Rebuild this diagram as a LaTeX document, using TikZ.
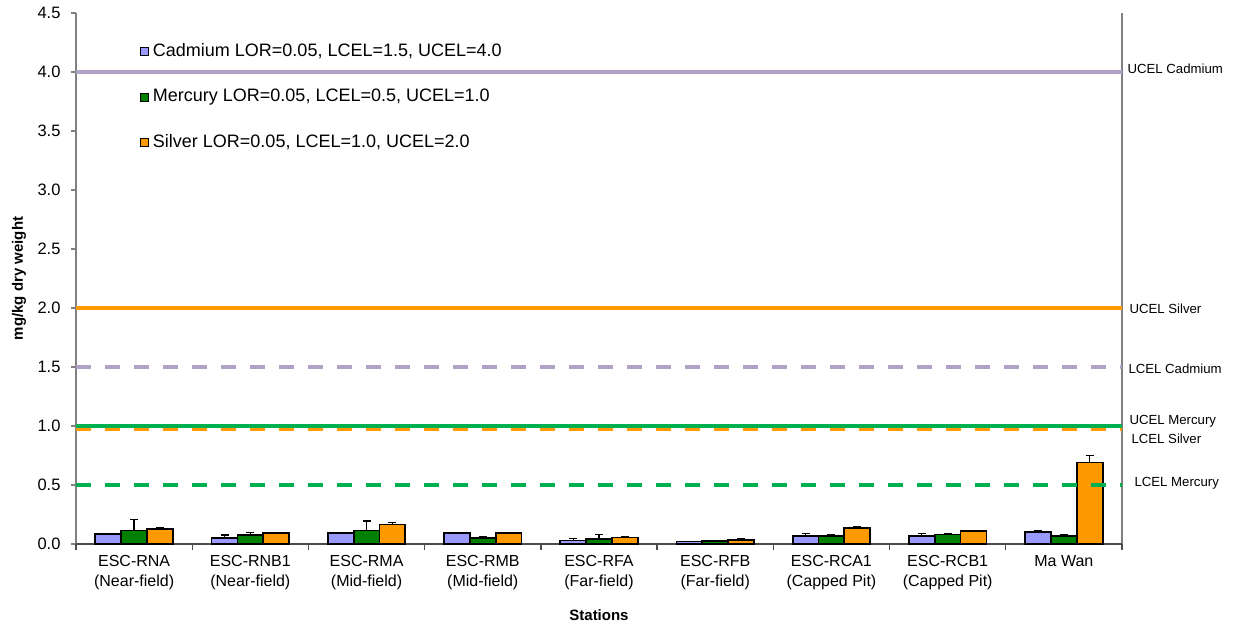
\documentclass[tikz,border=0pt]{standalone}
\usepackage{fontspec}
\setmainfont{Liberation Sans}
\definecolor{cdfill}{RGB}{153,153,255}
\definecolor{hgfill}{RGB}{0,128,0}
\definecolor{agfill}{RGB}{255,153,0}
\definecolor{cdline}{RGB}{178,161,199}
\definecolor{hgline}{RGB}{0,176,80}
\definecolor{agline}{RGB}{255,153,0}
\definecolor{axisgray}{RGB}{128,128,128}

\begin{document}
\begin{tikzpicture}[x=116.22pt, y=118pt]
\tikzset{bar/.style={draw=black, line width=1.8pt},
  errbar/.style={draw=black, line width=1.3pt},
  refline/.style={line width=3.6pt},
  refdash/.style={line width=3.6pt, dash pattern=on 15pt off 14pt},
  ticklab/.style={anchor=east, font=\fontsize{16.5}{18}\selectfont},
  catlab/.style={anchor=north, align=center, font=\fontsize{16}{20}\selectfont},
  reflab/.style={anchor=west, font=\fontsize{13.2}{15}\selectfont},
  leglab/.style={anchor=west, font=\fontsize{18}{20}\selectfont},
  legbox/.style={draw=black, line width=0.9pt, minimum size=8pt, inner sep=0pt},
  axtitle/.style={font=\bfseries\fontsize{15}{17}\selectfont}}
\path[use as bounding box] (-76pt,-84pt) rectangle (1157pt,544pt);
% axes
\draw[axisgray, line width=1.3pt] (0,0) -- (0,4.5);
\draw[axisgray, line width=1.3pt] (9,-6pt) -- (9,4.5);
\draw[black!70, line width=1.3pt] (0,0) -- (9,0);
\foreach \v/\t in {0/0.0,0.5/0.5,1/1.0,1.5/1.5,2/2.0,2.5/2.5,3/3.0,3.5/3.5,4/4.0,4.5/4.5} {
  \draw[axisgray, line width=1.3pt] (-5pt,\v) -- (0,\v);
  \node[ticklab] (tick\v) at ([xshift=-12pt]0,\v) {\t};
}
\foreach \i in {0,...,9}
  \draw[black!70, line width=1.3pt] (\i,0) -- ([yshift=-6pt]\i,0);
% bars and error bars
\foreach \i/\cd/\cde/\hg/\hge/\ag/\age in {
  1/0.085/0.09/0.115/0.21/0.13/0.135,
  2/0.05/0.075/0.075/0.095/0.095/0.10,
  3/0.09/0.095/0.115/0.195/0.165/0.18,
  4/0.095/0.10/0.05/0.06/0.09/0.095,
  5/0.03/0.045/0.04/0.08/0.055/0.06,
  6/0.022/0.022/0.025/0.025/0.035/0.047,
  7/0.065/0.09/0.065/0.075/0.135/0.15,
  8/0.07/0.09/0.08/0.09/0.11/0.115,
  9/0.105/0.11/0.07/0.08/0.69/0.75} {
  \draw[errbar] (\i-0.7222,\cd) -- (\i-0.7222,\cde) +(-4pt,0) -- +(4pt,0);
  \draw[errbar] (\i-0.5,\hg) -- (\i-0.5,\hge) +(-4pt,0) -- +(4pt,0);
  \draw[errbar] (\i-0.2778,\ag) -- (\i-0.2778,\age) +(-4pt,0) -- +(4pt,0);
  \draw[bar, fill=cdfill] (\i-0.8333,0) rectangle (\i-0.6111,\cd);
  \draw[bar, fill=hgfill] (\i-0.6111,0) rectangle (\i-0.3889,\hg);
  \draw[bar, fill=agfill] (\i-0.3889,0) rectangle (\i-0.1667,\ag);
}
% guideline levels
\draw[refline, cdline] (0,4) -- (9,4);
\draw[refline, agline] (0,2) -- (9,2);
\draw[refdash, cdline] (0,1.5) -- (9,1.5);
\draw[refdash, agline] (0,0.975) -- (9,0.975);
\draw[refline, hgline] (0,1) -- (9,1);
\draw[refdash, hgline] (0,0.5) -- (9,0.5);
\node[reflab] (ucelcd) at ([xshift=2pt]9,4.023) {UCEL Cadmium};
\node[reflab] (ucelag) at ([xshift=4pt]9,1.992) {UCEL Silver};
\node[reflab] (lcelcd) at ([xshift=3pt]9,1.483) {LCEL Cadmium};
\node[reflab] (ucelhg) at ([xshift=4pt]9,1.042) {UCEL Mercury};
\node[reflab] (lcelag) at ([xshift=6pt]9,0.89) {LCEL Silver};
\node[reflab] (lcelhg) at ([xshift=9pt]9,0.517) {LCEL Mercury};
% legend
\node[legbox, fill=cdfill] (keycd) at (0.585,4.174) {};
\node[legbox, fill=hgfill] (keyhg) at (0.585,3.788) {};
\node[legbox, fill=agfill] (keyag) at (0.585,3.407) {};
\node[leglab] (legcd) at ([xshift=1pt]keycd.east) {Cadmium LOR=0.05, LCEL=1.5, UCEL=4.0};
\node[leglab] (leghg) at ([xshift=1pt]keyhg.east) {Mercury LOR=0.05, LCEL=0.5, UCEL=1.0};
\node[leglab] (legag) at ([xshift=1pt]keyag.east) {Silver LOR=0.05, LCEL=1.0, UCEL=2.0};
% station names
\foreach \i/\txt in {1/{ESC-RNA\\(Near-field)}, 2/{ESC-RNB1\\(Near-field)},
  3/{ESC-RMA\\(Mid-field)}, 4/{ESC-RMB\\(Mid-field)}, 5/{ESC-RFA\\(Far-field)},
  6/{ESC-RFB\\(Far-field)}, 7/{ESC-RCA1\\(Capped Pit)}, 8/{ESC-RCB1\\(Capped Pit)},
  9/{Ma Wan}}
  \node[catlab] (cat\i) at ([yshift=-8pt]\i-0.5,0) {\txt};
\node[axtitle] (xtitle) at ([yshift=-71pt]4.5,0) {Stations};
\node[axtitle, rotate=90] (ytitle) at ([xshift=-57pt]0,2.25) {mg/kg dry weight};
\end{tikzpicture}
\end{document}
